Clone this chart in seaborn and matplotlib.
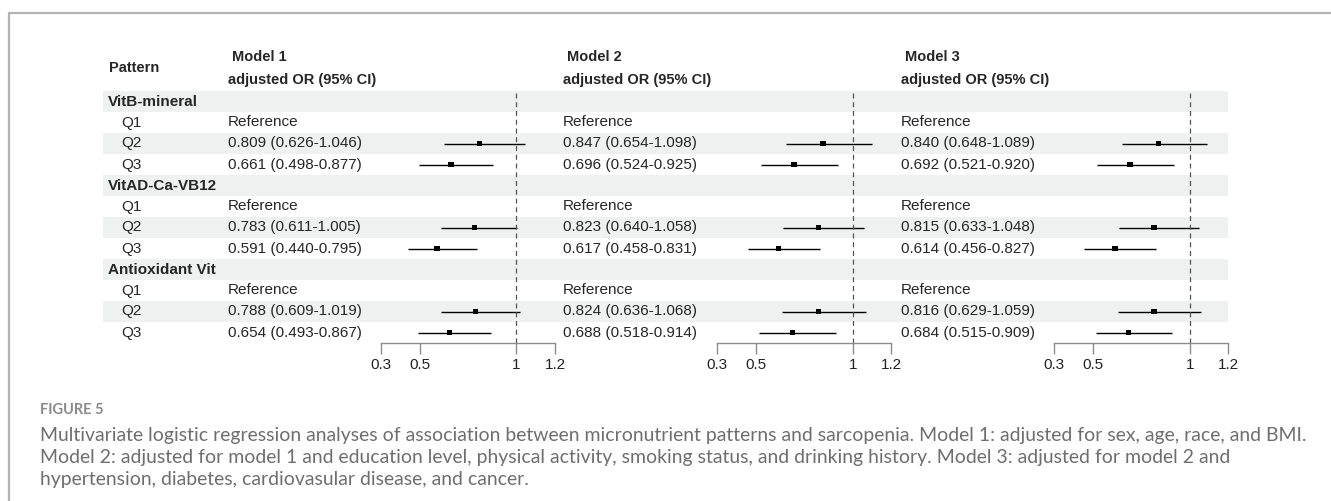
import numpy as np
import pandas as pd
import matplotlib
matplotlib.use("Agg")
import matplotlib.pyplot as plt
import matplotlib.transforms as mtransforms
from matplotlib.lines import Line2D
import seaborn as sns

# %% data

patterns = ["VitB-mineral", "VitAD-Ca-VB12", "Antioxidant Vit"]
quantiles = ["Q1", "Q2", "Q3"]
models = ["Model 1", "Model 2", "Model 3"]

# odds ratios per quantile row (Q1 is the reference), pattern by pattern
or_m1 = [np.nan, 0.809, 0.661, np.nan, 0.783, 0.591, np.nan, 0.788, 0.654]
lo_m1 = [np.nan, 0.626, 0.498, np.nan, 0.611, 0.440, np.nan, 0.609, 0.493]
hi_m1 = [np.nan, 1.046, 0.877, np.nan, 1.005, 0.795, np.nan, 1.019, 0.867]

or_m2 = [np.nan, 0.847, 0.696, np.nan, 0.823, 0.617, np.nan, 0.824, 0.688]
lo_m2 = [np.nan, 0.654, 0.524, np.nan, 0.640, 0.458, np.nan, 0.636, 0.518]
hi_m2 = [np.nan, 1.098, 0.925, np.nan, 1.058, 0.831, np.nan, 1.068, 0.914]

or_m3 = [np.nan, 0.840, 0.692, np.nan, 0.815, 0.614, np.nan, 0.816, 0.684]
lo_m3 = [np.nan, 0.648, 0.521, np.nan, 0.633, 0.456, np.nan, 0.629, 0.515]
hi_m3 = [np.nan, 1.089, 0.920, np.nan, 1.048, 0.827, np.nan, 1.059, 0.909]

x_ticks = [0.3, 0.5, 1, 1.2]
x_ticklabels = ["0.3", "0.5", "1", "1.2"]

caption_title = "FIGURE 5"
caption_lines = [
    "Multivariate logistic regression analyses of association between micronutrient patterns and sarcopenia. Model 1: adjusted for sex, age, race, and BMI.",
    "Model 2: adjusted for model 1 and education level, physical activity, smoking status, and drinking history. Model 3: adjusted for model 2 and",
    "hypertension, diabetes, cardiovasular disease, and cancer.",
]

# %% tidy frame

rows = []
for g, p in enumerate(patterns):
    for k, q in enumerate(quantiles):
        rows.append({"pattern": p, "quantile": q, "row": 4 * g + 1 + k})
base = pd.DataFrame(rows)
frames = []
for m, (o, l, h) in zip(models, [(or_m1, lo_m1, hi_m1), (or_m2, lo_m2, hi_m2), (or_m3, lo_m3, hi_m3)]):
    d = base.copy()
    d["model"] = m
    d["OR"], d["lo"], d["hi"] = o, l, h
    frames.append(d)
df = pd.concat(frames, ignore_index=True)
n_rows = 4 * len(patterns)

# %% figure

sns.set_theme(style="white")
plt.rcParams["font.family"] = ["Liberation Sans", "DejaVu Sans"]

W, H = 1331, 501
fig = plt.figure(figsize=(W / 100, H / 100), dpi=100)


def fx(x):
    return x / W


def fy(y):
    return 1 - y / H


# frame of the figure panel
fig.add_artist(Line2D([fx(9), 1], [fy(13), fy(13)], transform=fig.transFigure, color="#b4b4b4", lw=1.6))
fig.add_artist(Line2D([fx(9), fx(9)], [fy(13), 0], transform=fig.transFigure, color="#b4b4b4", lw=1.6))

top, bottom = 91, 343
bg = fig.add_axes([fx(103), fy(bottom), fx(1228 - 103), (bottom - top) / H])
bg.set_xlim(0, 1)
bg.set_ylim(n_rows - 0.5, -0.5)
bg.axis("off")
for i in range(0, n_rows, 2):
    bg.axhspan(i - 0.5, i + 0.5, color="#eef1f0", lw=0)

tr = mtransforms.blended_transform_factory(fig.transFigure, bg.transData)
fs = 11
for g, p in enumerate(patterns):
    bg.text(fx(108), 4 * g, p, transform=tr, fontsize=fs, fontweight="bold", va="center")
for _, r in base.iterrows():
    bg.text(fx(121), r["row"], r["quantile"], transform=tr, fontsize=fs, va="center")

fig.text(fx(109), fy(68), "Pattern", fontsize=10.5, fontweight="bold", va="center")

text_x = [228, 563, 901]
plot_x = [381, 717.3, 1054.3]
for m, tx, px in zip(models, text_x, plot_x):
    d = df[df["model"] == m]
    fig.text(fx(tx + 4), fy(57), m, fontsize=10.5, fontweight="bold", va="center")
    fig.text(fx(tx), fy(80), "adjusted OR (95% CI)", fontsize=10.5, fontweight="bold", va="center")
    for _, r in d.iterrows():
        s = "Reference" if np.isnan(r["OR"]) else f"{r['OR']:.3f} ({r['lo']:.3f}-{r['hi']:.3f})"
        bg.text(fx(tx), r["row"], s, transform=tr, fontsize=fs, va="center")

    ax = fig.add_axes([fx(px), fy(bottom), fx(174), (bottom - top) / H])
    ax.patch.set_alpha(0)
    pts = d.dropna()
    ax.hlines(pts["row"], pts["lo"], pts["hi"], color="black", lw=1)
    sns.scatterplot(data=pts, x="OR", y="row", marker="s", s=16, color="black",
                    edgecolor="none", ax=ax, legend=False, zorder=3)
    ax.axvline(1, color="#555555", lw=0.9, ls=(0, (4, 3)))
    ax.set_xlim(0.3, 1.2)
    ax.set_ylim(n_rows - 0.5, -0.5)
    ax.set_xlabel("")
    ax.set_ylabel("")
    ax.set_yticks([])
    for sp in ["left", "right", "top"]:
        ax.spines[sp].set_visible(False)
    ax.spines["bottom"].set_color("#8c8c8c")
    ax.spines["bottom"].set_linewidth(1)
    ax.set_xticks(x_ticks, x_ticklabels)
    ax.tick_params(axis="x", bottom=True, direction="out", length=8, width=1,
                   color="#8c8c8c", labelsize=fs, labelcolor="#222222", pad=3)

# %% caption

fig.text(fx(40), fy(410), caption_title, fontsize=10.5, fontweight="bold", color="#8a8a8a",
         va="center", family=["Lato", "DejaVu Sans"])
cap = [fig.text(fx(40), fy(436 + 22 * i), line, fontsize=12, color="#6e6e6e", va="center",
                family=["Lato", "DejaVu Sans"]) for i, line in enumerate(caption_lines)]
fig.canvas.draw()
w0 = cap[0].get_window_extent(fig.canvas.get_renderer()).width
for t in cap:
    t.set_fontsize(12 * (1303 - 40) / w0)

fig.savefig("out.png", dpi=100)
